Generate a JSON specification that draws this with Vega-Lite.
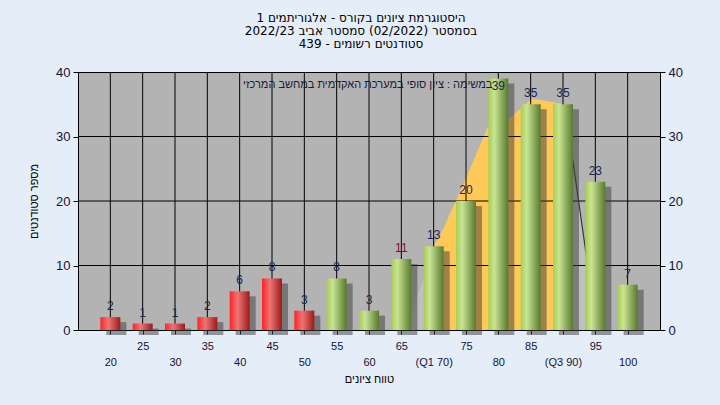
{
  "$schema": "https://vega.github.io/schema/vega-lite/v6.json",
  "autosize": "none",
  "width": 582,
  "height": 258,
  "padding": {"left": 78, "top": 72, "right": 60, "bottom": 75},
  "background": "#E4EDF8",
  "config": {
    "view": {"fill": "#B3B3B3", "stroke": "#000000", "strokeWidth": 1},
    "font": "Liberation Sans",
    "scale": {"continuousPadding": 0},
    "axis": {"domainColor": "#000000", "tickColor": "#000000", "labelColor": "#141436", "labelFont": "Liberation Sans", "titleFont": "Liberation Sans", "titleFontWeight": "normal", "titleColor": "#000000"}
  },
  "title": {
    "text": ["היסטוגרמת ציונים בקורס - אלגוריתמים 1", "בסמסטר  (02/2022)  סמסטר אביב 2022/23", "סטודנטים רשומים - 439"],
    "font": "DejaVu Sans",
    "fontSize": 12,
    "fontWeight": "normal",
    "color": "#000000",
    "lineHeight": 13,
    "anchor": "middle",
    "offset": 15,
    "dx": -8
  },
  "datasets": {
    "bars": [
      {"score": 20, "count": 2}, {"score": 25, "count": 1}, {"score": 30, "count": 1},
      {"score": 35, "count": 2}, {"score": 40, "count": 6}, {"score": 45, "count": 8},
      {"score": 50, "count": 3}, {"score": 55, "count": 8}, {"score": 60, "count": 3},
      {"score": 65, "count": 11}, {"score": 70, "count": 13}, {"score": 75, "count": 20},
      {"score": 80, "count": 39}, {"score": 85, "count": 35}, {"score": 90, "count": 35},
      {"score": 95, "count": 23}, {"score": 100, "count": 7}
    ],
    "curve": [
      {"score": 65.6, "value": 0}, {"score": 66.8, "value": 3.1}, {"score": 70, "value": 13},
      {"score": 71.4, "value": 15.5}, {"score": 75.2, "value": 24}, {"score": 78.4, "value": 31.5},
      {"score": 81.5, "value": 32.6}, {"score": 85.2, "value": 35.9}, {"score": 90, "value": 35},
      {"score": 91.5, "value": 26.4}, {"score": 93.6, "value": 11.6}, {"score": 95.3, "value": 0}
    ],
    "hgrid": [{"level": 10}, {"level": 20}, {"level": 30}]
  },
  "resolve": {"scale": {"x": "shared", "y": "shared"}, "axis": {"x": "independent", "y": "independent"}},
  "layer": [
    {
      "data": {"name": "curve"},
      "mark": {"type": "area", "color": "#BFBFBF"},
      "encoding": {
        "x": {"field": "score", "type": "quantitative", "scale": {"domain": [15, 105], "zero": false, "nice": false, "padding": 0}, "axis": null},
        "y": {"field": "value", "type": "quantitative", "scale": {"domain": [0, 40], "nice": false, "padding": 0},
          "axis": {"orient": "left", "values": [0, 10, 20, 30, 40], "grid": false, "tickSize": 5, "labelFontSize": 13, "labelPadding": 3, "title": "מספר סטודנטים", "titleFontSize": 11, "titlePadding": 16}}
      }
    },
    {
      "data": {"name": "curve"},
      "transform": [{"filter": "datum.score >= 70 && datum.score <= 90"}],
      "mark": {"type": "area", "color": "#FFC957"},
      "encoding": {
        "x": {"field": "score", "type": "quantitative", "axis": null},
        "y": {"field": "value", "type": "quantitative", "axis": null}
      }
    },
    {
      "data": {"name": "curve"},
      "transform": [{"filter": "datum.score >= 90"}],
      "mark": {"type": "line", "color": "#383838", "strokeWidth": 1.2},
      "encoding": {
        "x": {"field": "score", "type": "quantitative", "axis": null},
        "y": {"field": "value", "type": "quantitative", "axis": null}
      }
    },
    {
      "data": {"name": "bars"},
      "mark": {"type": "rule", "color": "#000000", "strokeWidth": 1},
      "encoding": {
        "x": {"field": "score", "type": "quantitative",
          "axis": {
            "orient": "bottom",
            "values": [20, 25, 30, 35, 40, 45, 50, 55, 60, 65, 70, 75, 80, 85, 90, 95, 100],
            "grid": false,
            "tickSize": 4,
            "labelFontSize": 11,
            "labelOverlap": false,
            "labelFlush": false,
            "labelBaseline": "top",
            "labelPadding": 6,
            "labelLineHeight": 16,
            "labelExpr": "datum.value % 10 == 0 ? ['', datum.value == 70 ? '(Q1 70)' : datum.value == 90 ? '(Q3 90)' : datum.label] : datum.label",
            "title": "טווח ציונים",
            "titleFontSize": 11,
            "titlePadding": 6
          }
        }
      }
    },
    {
      "data": {"name": "hgrid"},
      "mark": {"type": "rule", "color": "#000000", "strokeWidth": 1},
      "encoding": {
        "y": {"field": "level", "type": "quantitative", "axis": null}
      }
    },
    {
      "data": {"name": "bars"},
      "mark": {"type": "bar", "size": 20, "color": "#3C3C3C", "opacity": 0.5, "xOffset": 6, "yOffset": 5},
      "encoding": {
        "x": {"field": "score", "type": "quantitative", "axis": null},
        "y": {"field": "count", "type": "quantitative", "axis": null}
      }
    },
    {
      "data": {"name": "bars"},
      "transform": [{"filter": "datum.score <= 50"}],
      "mark": {"type": "bar", "size": 20, "color": {"gradient": "linear", "x1": 0, "x2": 1, "y1": 0, "y2": 0, "stops": [{"offset": 0, "color": "#FF2424"}, {"offset": 0.4, "color": "#EE7474"}, {"offset": 1, "color": "#9C1A1A"}]}},
      "encoding": {
        "x": {"field": "score", "type": "quantitative", "axis": null},
        "y": {"field": "count", "type": "quantitative", "axis": null}
      }
    },
    {
      "data": {"name": "bars"},
      "transform": [{"filter": "datum.score > 50"}],
      "mark": {"type": "bar", "size": 20, "color": {"gradient": "linear", "x1": 0, "x2": 1, "y1": 0, "y2": 0, "stops": [{"offset": 0, "color": "#A4CE50"}, {"offset": 0.3, "color": "#C9E494"}, {"offset": 1, "color": "#587A2C"}]}},
      "encoding": {
        "x": {"field": "score", "type": "quantitative", "axis": null},
        "y": {"field": "count", "type": "quantitative", "axis": null}
      }
    },
    {
      "data": {"name": "bars"},
      "mark": {"type": "text", "fontSize": 12, "baseline": "bottom", "dy": {"expr": "datum.count > 37 ? 15 : -4"}},
      "encoding": {
        "x": {"field": "score", "type": "quantitative", "axis": null},
        "y": {"field": "count", "type": "quantitative", "axis": null},
        "text": {"field": "count", "type": "quantitative"},
        "color": {"condition": {"test": "datum.count == 11", "value": "#7A1426"}, "value": "#1C2550"}
      }
    },
    {
      "data": {"values": [{"note": "במשימה : ציון סופי במערכת האקדמית במחשב המרכזי"}]},
      "mark": {"type": "text", "fontSize": 11, "baseline": "middle", "align": "center", "color": "#1A1A3A"},
      "encoding": {
        "x": {"datum": 59.8, "type": "quantitative", "axis": null},
        "y": {"datum": 38, "type": "quantitative", "axis": null},
        "text": {"field": "note", "type": "nominal"}
      }
    },
    {
      "data": {"name": "hgrid"},
      "mark": {"type": "rule", "opacity": 0},
      "encoding": {
        "y": {"field": "level", "type": "quantitative",
          "axis": {"orient": "right", "values": [0, 10, 20, 30, 40], "grid": false, "tickSize": 5, "labelFontSize": 13, "labelPadding": 3, "title": null}}
      }
    }
  ]
}
